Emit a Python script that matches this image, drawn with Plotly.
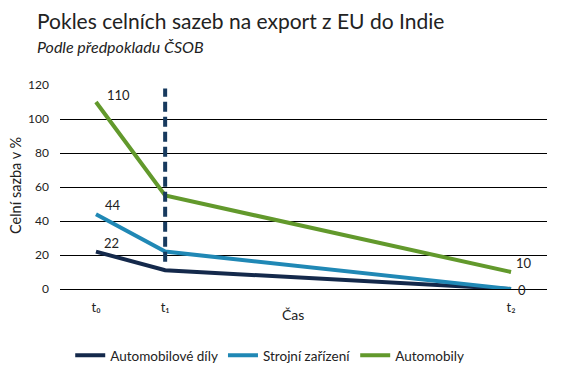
import plotly.graph_objects as go

# Data
time_labels = ["t₀", "t₁", "t₂"]
time_pos = [0, 1, 6]
automobilove_dily = [22, 11, 0]
strojni_zarizeni = [44, 22, 0]
automobily = [110, 55, 10]
y_ticks = [0, 20, 40, 60, 80, 100, 120]
t1_marker_range = [16, 118]

c_dily = "#14294b"
c_stroj = "#2088b5"
c_auto = "#62992c"
font_fam = "Lato, 'Open Sans', sans-serif"
text_col = "#222222"

# page has an 8px body margin; figure is sized so it fills the window exactly
W, H = 573, 376
L, T = 52, 77
PW, PH = 487, 204

fig = go.Figure()
fig.add_trace(go.Scatter(x=time_pos, y=automobilove_dily, mode="lines", name="Automobilové díly",
                         line=dict(color=c_dily, width=4)))
fig.add_trace(go.Scatter(x=time_pos, y=strojni_zarizeni, mode="lines", name="Strojní zařízení",
                         line=dict(color=c_stroj, width=4)))
fig.add_trace(go.Scatter(x=time_pos, y=automobily, mode="lines", name="Automobily",
                         line=dict(color=c_auto, width=4)))

# dashed vertical line at t1
fig.add_shape(type="line", x0=time_pos[1], x1=time_pos[1], y0=t1_marker_range[0], y1=t1_marker_range[1],
              xref="x", yref="y", line=dict(color="#173a5e", width=4, dash="10px,5px"), layer="above")

# value labels: (x, y, text, xshift, yshift)
labels = [
    (time_pos[0], automobily[0], "110", 9, 7),
    (time_pos[0], strojni_zarizeni[0], "44", 7, 9),
    (time_pos[0], automobilove_dily[0], "22", 6, 9),
    (time_pos[2], automobily[2], "10", 3, 9),
    (time_pos[2], strojni_zarizeni[2], "0", 5, -1),
]
for x, y, t, xs, ys in labels:
    fig.add_annotation(x=x, y=y, text=t, showarrow=False, xanchor="left", yanchor="middle",
                       xshift=xs, yshift=ys,
                       font=dict(size=13, color=text_col, family=font_fam))

def py(page_y):
    return (T + PH - (page_y - 8)) / PH

def px(page_x):
    return ((page_x - 8) - L) / PW

# title, subtitle, axis titles
fig.add_annotation(xref="paper", yref="paper", x=px(35), y=py(20), xanchor="left", yanchor="middle",
                   text="Pokles celních sazeb na export z EU do Indie", showarrow=False,
                   font=dict(size=21, color=text_col, family=font_fam))
fig.add_annotation(xref="paper", yref="paper", x=px(35), y=py(46), xanchor="left", yanchor="middle",
                   text="<i>Podle předpokladu ČSOB</i>", showarrow=False,
                   font=dict(size=16, color=text_col, family=font_fam))
fig.add_annotation(xref="paper", yref="paper", x=px(293), y=py(314), xanchor="center", yanchor="middle",
                   text="Čas", showarrow=False, font=dict(size=14, color=text_col, family=font_fam))
fig.add_annotation(xref="paper", yref="paper", x=px(15), y=py(186), xanchor="center", yanchor="middle",
                   text="Celní sazba v %", textangle=-90, showarrow=False,
                   font=dict(size=14.5, color=text_col, family=font_fam))

fig.update_layout(
    width=W, height=H,
    paper_bgcolor="white", plot_bgcolor="white",
    margin=dict(l=L, r=W - L - PW, t=T, b=H - T - PH, autoexpand=False),
    font=dict(family=font_fam, size=13, color=text_col),
    showlegend=True,
    legend=dict(orientation="h", x=0.021, xanchor="left", y=-0.25, yanchor="top",
                font=dict(size=13.5, color=text_col), itemwidth=30),
    xaxis=dict(range=[-0.52, 6.52], tickmode="array", tickvals=time_pos, ticktext=time_labels,
               showgrid=False, zeroline=False, showline=False, ticks="", ticklabelstandoff=9,
               tickfont=dict(size=13), automargin=False),
    yaxis=dict(range=[0, 120], tickvals=y_ticks, showgrid=True, gridcolor="black", gridwidth=1,
               zeroline=True, zerolinecolor="black", zerolinewidth=1, showline=False, ticks="",
               ticklabelstandoff=10, tickfont=dict(size=12), automargin=False),
)

fig.write_html("out.html")
